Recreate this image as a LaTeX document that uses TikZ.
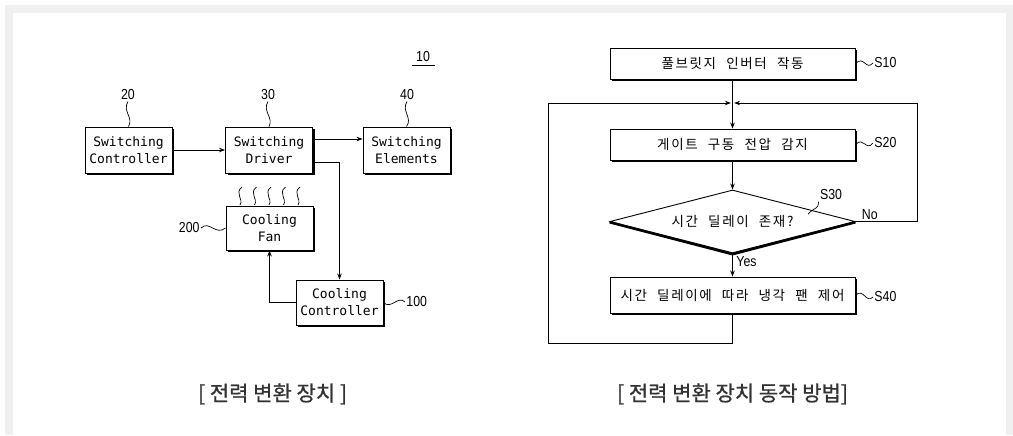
\documentclass[tikz,border=0pt]{standalone}
\usepackage{fontspec}
\usetikzlibrary{arrows.meta,shapes.geometric,shadows}
\newfontfamily\krfont[FakeBold=0.8]{Noto Sans CJK KR}
\newfontfamily\krsp[LetterSpace=12,WordSpace=2.2]{Noto Sans CJK KR}
\newfontfamily\monofnt{DejaVu Sans Mono}
\newfontfamily\numfnt[FakeStretch=0.85]{Liberation Sans}
\definecolor{framegray}{HTML}{F0F0F0}
\definecolor{captxt}{HTML}{333333}
\begin{document}
\begin{tikzpicture}[x=1pt,y=-1pt,
  line width=0.9pt,
  arr/.style={-{Stealth[length=6pt,width=4.5pt]}},
  shad/.style={drop shadow={shadow xshift=2pt,shadow yshift=-2pt,fill=black,opacity=1}},
  blk/.style={draw,fill=white,shad,minimum width=87pt,minimum height=46pt,align=center,
    inner sep=0pt,font=\monofnt\fontsize{13}{17}\selectfont},
  fbox/.style={draw,fill=white,shad,minimum width=245pt,minimum height=31pt,inner sep=0pt,
    font=\krsp\fontsize{13.5}{15}\selectfont},
  numlbl/.style={inner sep=1pt,font=\numfnt\fontsize{14.5}{16}\selectfont},
  wav/.style={line width=0.7pt},
  captext/.style={text=captxt,inner sep=0pt,font=\krfont\fontsize{21}{24}\selectfont}
]
% frame
\fill[framegray] (5,5) rectangle (1013,435);
\fill[white] (13,13) rectangle (1006,436);
\useasboundingbox (0,0) rectangle (1013,435);

% ---------- left diagram ----------
\node[blk] (sc) at (128.5,150) {Switching\\Controller};
\node[blk] (sd) at (269,150) {Switching\\Driver};
\node[blk] (se) at (406.5,150) {Switching\\Elements};
\node[blk,minimum height=44pt] (cf) at (269.5,228) {Cooling\\Fan};
\node[blk,minimum height=45pt] (cc) at (339.5,302.5) {Cooling\\Controller};

\node[numlbl] (l10) at (423,57) {10};
\draw[line width=0.8pt] (412,65) -- (435,65);
\node[numlbl] (l20) at (128,95) {20};
\node[numlbl] (l30) at (268,95) {30};
\node[numlbl] (l40) at (407,95) {40};
\node[numlbl,anchor=east] (l200) at (201,228) {200};
\node[numlbl,anchor=west] (l100) at (405,302) {100};

\draw[wav] (l20.south) .. controls (122,111) and (134,118) .. (sc.north);
\draw[wav] (l30.south) .. controls (262,111) and (274,118) .. (sd.north);
\draw[wav] (l40.south) .. controls (401,111) and (413,118) .. (se.north);
\draw[wav] (l200.east) .. controls (209,220) and (216,236) .. (cf.west);
\draw[wav] (cc.east) .. controls (391,310) and (398,295) .. (l100.west);

% heat squiggles
\foreach \xx in {240,254.5,269,283.5,298}{
  \draw[wav] (\xx+2,187) .. controls (\xx-6,193) and (\xx+4,199) .. (\xx,205);
}

\draw[arr] (sc.east) -- (sd.west);
\draw[arr] ([yshift=11pt]sd.east) -- ([yshift=11pt]se.west);
\draw[arr] ([yshift=-12pt]sd.east) -| (cc.north);
\draw[arr] (cc.west) -| (cf.south);

% ---------- right diagram ----------
\node[fbox] (s10) at (732.5,63.5) {풀브릿지 인버터 작동};
\node[fbox] (s20) at (732.5,144.5) {게이트 구동 전압 감지};
\node[draw,fill=white,diamond,aspect=3.9,minimum width=245pt,minimum height=63pt,inner sep=0pt,
  font=\krsp\fontsize{13.5}{15}\selectfont] (s30) at (732.5,221.5) {시간 딜레이 존재?};
\draw[line width=2.4pt,line join=miter] ([yshift=-0.8pt]s30.west) -- ([yshift=-0.8pt]s30.south) -- ([yshift=-0.8pt]s30.east);
\node[fbox,minimum height=36pt] (s40) at (732.5,295) {시간 딜레이에 따라 냉각 팬 제어};

\node[numlbl,anchor=west] (ls10) at (873,63) {S10};
\node[numlbl,anchor=west] (ls20) at (873,143) {S20};
\node[numlbl,anchor=west] (ls40) at (873,297) {S40};
\node[numlbl] (ls30) at (831,195) {S30};
\draw[wav] (s10.east) .. controls (864,55) and (866,71) .. (ls10.west);
\draw[wav] (s20.east) .. controls (864,136) and (866,152) .. (ls20.west);
\draw[wav] (s40.east) .. controls (864,288) and (866,304) .. (ls40.west);
\draw[wav] (ls30.south west) .. controls (818,210) and (816,206) .. (808,214);

\coordinate (j) at (732.5,103);
\coordinate (rno) at (917,221.5);
\coordinate (rtop) at (917,103);
\coordinate (lb) at (548,343);
\coordinate (ltop) at (548,103);

\draw[arr] (s10.south) -- (s20.north);
\draw[arr] (s20.south) -- (s30.north);
\draw[arr] (s30.south) -- (s40.north);
\node[numlbl,anchor=west] (yes) at (735,262) {Yes};
\node[numlbl,anchor=south west] (no) at ([xshift=5pt,yshift=0pt]s30.east) {No};
\draw[arr] (s30.east) -- (rno) -- (rtop) -- ([xshift=1.6pt]j);
\draw[arr] (s40.south) |- (lb) -- (ltop) -- ([xshift=-1.6pt]j);

% captions
\node[captext] (cap1) at (272.5,394) {[ 전력 변환 장치 ]};
\node[captext] (cap2) at (732.5,394) {[ 전력 변환 장치 동작 방법]};
\end{tikzpicture}
\end{document}
